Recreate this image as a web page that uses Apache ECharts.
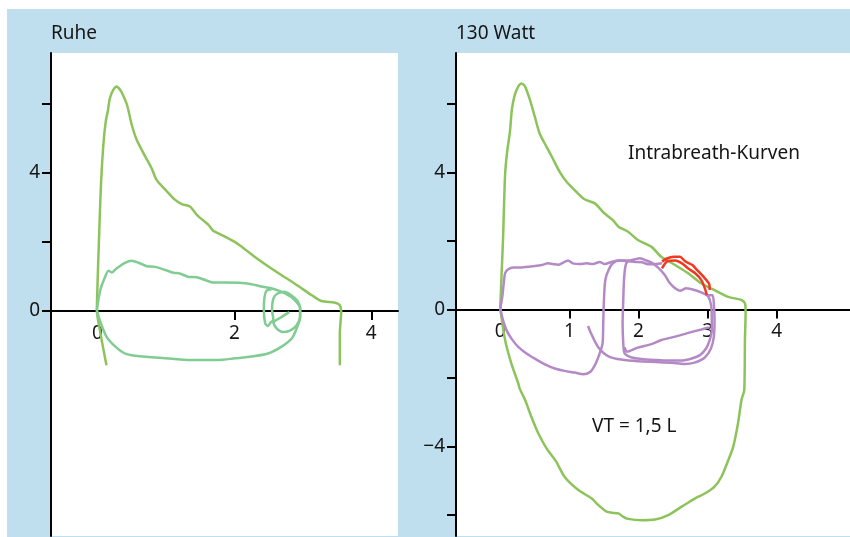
<!DOCTYPE html>
<html>
<head>
<meta charset="utf-8">
<title>Fluss-Volumen-Kurven</title>
<script src="https://cdn.jsdelivr.net/npm/echarts@6/dist/echarts.min.js"></script>
<style>
  html, body { margin: 0; padding: 0; background: #fff; }
  #frame { position: absolute; left: 7px; top: 9px; width: 843px; height: 528px; background: #c0dfee; }
  #main { position: absolute; left: 0; top: 0; width: 850px; height: 537px; }
</style>
</head>
<body>
<div id="frame"></div>
<div id="main"></div>
<script>
// Ruhe: maximal envelope (outer) and tidal loops (volume L, flow L/s)
var ruheEnvelope = [
  [0.13,-1.57],[0.06,-0.84],[0.00,-0.17],[-0.01,0.03],[0.00,0.80],[0.02,2.02],[0.05,3.66],
  [0.085,4.82],[0.12,5.50],[0.15,5.79],[0.18,6.17],[0.23,6.41],[0.28,6.51],[0.31,6.46],
  [0.35,6.35],[0.43,5.98],[0.50,5.40],[0.57,4.97],[0.67,4.58],[0.79,4.14],[0.86,3.81],
  [0.99,3.52],[1.13,3.23],[1.23,3.10],[1.35,3.03],[1.45,2.79],[1.62,2.50],[1.69,2.33],
  [1.81,2.21],[2.01,2.00],[2.11,1.86],[2.30,1.57],[2.47,1.33],[2.69,1.04],[2.84,0.85],
  [2.98,0.66],[3.13,0.46],[3.27,0.29],[3.47,0.24],[3.54,0.17],[3.56,-0.02],[3.54,-0.64],
  [3.54,-1.57]
];
var ruheLoop = [
  [-0.01,0.03],[0.04,-0.31],[0.13,-0.74],[0.26,-1.03],[0.40,-1.23],[0.50,-1.28],[0.79,-1.34],
  [1.13,-1.39],[1.42,-1.42],[1.76,-1.42],[2.01,-1.37],[2.25,-1.32],[2.49,-1.23],[2.69,-1.03],
  [2.84,-0.79],[2.91,-0.50],[2.96,-0.17],[2.96,0.08],[2.88,0.32],[2.74,0.51],[2.54,0.66],
  [2.37,0.72],[2.25,0.78],[2.06,0.82],[1.86,0.83],[1.69,0.83],[1.57,0.90],[1.45,0.98],
  [1.33,0.99],[1.20,1.09],[1.11,1.11],[0.99,1.19],[0.84,1.28],[0.72,1.30],[0.60,1.40],
  [0.50,1.46],[0.40,1.40],[0.28,1.24],[0.21,1.12],[0.16,1.17],[0.11,0.99],[0.04,0.61],
  [-0.01,0.03]
];
var ruheSmallLoops = [
  [2.54,0.63],[2.47,0.59],[2.44,0.41],[2.43,0.03],[2.45,-0.36],[2.49,-0.43],[2.53,-0.33],
  [2.57,-0.26],[2.55,0.03],[2.57,0.37],[2.63,0.51],[2.73,0.56],[2.83,0.46],[2.92,0.30],
  [2.96,0.08],[2.96,-0.14],[2.91,-0.41],[2.81,-0.57],[2.71,-0.61],[2.62,-0.51],[2.57,-0.34],
  [2.69,-0.17],[2.80,-0.03]
];

// 130 Watt: maximal envelope, intrabreath curves (purple) and parts above envelope (red)
var wattEnvelope = [
  [0.00,0.04],[0.02,1.06],[0.04,2.03],[0.07,3.93],[0.10,4.61],[0.14,5.19],[0.17,5.87],
  [0.21,6.26],[0.26,6.51],[0.31,6.60],[0.36,6.51],[0.43,6.12],[0.50,5.63],[0.57,5.14],
  [0.67,4.75],[0.76,4.41],[0.86,4.02],[0.96,3.73],[1.10,3.44],[1.22,3.22],[1.37,3.10],
  [1.49,2.84],[1.63,2.61],[1.71,2.42],[1.85,2.27],[1.99,2.03],[2.19,1.83],[2.33,1.54],
  [2.53,1.30],[2.72,1.06],[2.91,0.76],[3.10,0.57],[3.30,0.37],[3.49,0.28],[3.54,0.18],
  [3.55,-0.06],[3.54,-0.89],[3.53,-2.35],[3.49,-2.64],[3.44,-3.32],[3.37,-4.01],[3.30,-4.39],
  [3.20,-4.88],[3.10,-5.17],[2.96,-5.37],[2.82,-5.51],[2.62,-5.76],[2.43,-6.00],[2.24,-6.13],
  [2.04,-6.15],[1.85,-6.11],[1.78,-6.05],[1.71,-5.95],[1.61,-5.93],[1.54,-5.90],[1.42,-5.71],
  [1.32,-5.51],[1.13,-5.27],[0.93,-4.88],[0.81,-4.44],[0.67,-4.05],[0.55,-3.61],[0.45,-3.13],
  [0.36,-2.64],[0.28,-2.30],[0.26,-2.15],[0.16,-1.57],[0.07,-0.89],[0.00,0.04]
];
var wattBreath1 = [
  [0.00,0.03],[0.03,0.38],[0.05,0.76],[0.07,1.06],[0.11,1.17],[0.19,1.23],[0.31,1.23],
  [0.40,1.25],[0.50,1.27],[0.60,1.30],[0.69,1.35],[0.76,1.33],[0.84,1.31],[0.91,1.37],
  [0.98,1.43],[1.05,1.35],[1.15,1.33],[1.25,1.35],[1.34,1.33],[1.44,1.39],[1.51,1.33],
  [1.61,1.39],[1.71,1.43],[1.85,1.43],[1.95,1.47],[2.02,1.50],[2.09,1.45],[2.19,1.37],
  [2.28,1.23],[2.38,1.01],[2.45,0.78],[2.53,0.62],[2.60,0.55],[2.69,0.62],[2.81,0.57],
  [2.94,0.47],[3.01,0.38],[3.05,0.13],[3.06,-0.21],[3.06,-0.60],[3.03,-0.89],[2.98,-1.13],
  [2.89,-1.33],[2.77,-1.43],[2.62,-1.49],[2.43,-1.49],[2.24,-1.47],[2.04,-1.44],[1.90,-1.40],
  [1.80,-1.28],[1.78,-0.99],[1.77,-0.40],[1.78,0.28],[1.79,0.86],[1.81,1.25],[1.84,1.40],
  [1.95,1.43]
];
var wattBreath2 = [
  [0.00,0.03],[0.04,-0.31],[0.09,-0.60],[0.16,-0.84],[0.26,-1.09],[0.38,-1.28],[0.50,-1.43],
  [0.64,-1.59],[0.79,-1.72],[0.93,-1.79],[1.08,-1.84],[1.20,-1.89],[1.30,-1.82],[1.37,-1.62],
  [1.43,-1.33],[1.48,-0.99],[1.49,-0.40],[1.50,0.28],[1.52,0.86],[1.57,1.17],[1.63,1.35],
  [1.73,1.43],[1.85,1.41],[1.95,1.39],[2.05,1.38],[2.15,1.32],[2.25,1.33],[2.34,1.35]
];
var wattBreath3 = [
  [1.27,-0.48],[1.31,-0.68],[1.36,-0.89],[1.42,-1.11],[1.49,-1.26],[1.58,-1.38],[1.75,-1.46],
  [1.99,-1.51],[2.24,-1.53],[2.48,-1.55],[2.67,-1.59],[2.81,-1.55],[2.96,-1.40],[3.05,-1.13],
  [3.09,-0.79],[3.10,-0.31],[3.09,0.18],[3.07,0.42],[2.99,0.42]
];
var wattBreath4 = [
  [1.80,-1.10],[1.83,-1.23],[1.99,-1.11],[2.19,-1.01],[2.33,-0.89],[2.53,-0.79],[2.72,-0.68],
  [2.91,-0.58],[3.02,-0.52]
];
var wattRedOuter = [
  [2.34,1.40],[2.41,1.49],[2.51,1.54],[2.60,1.54],[2.67,1.42],[2.75,1.33],[2.78,1.30],
  [2.85,1.15],[2.94,0.96],[3.02,0.76],[3.03,0.57]
];
var wattRedInner = [
  [2.34,1.20],[2.41,1.40],[2.53,1.43],[2.63,1.35],[2.72,1.20],[2.82,1.06],[2.91,0.86],
  [2.96,0.62],[2.99,0.42]
];

// tick marks and tick labels
var ruheYTicks = [0, 2, 4, 6];
var ruheYLabels = [0, 4];
var ruheXTicks = [2, 4];
var ruheXLabels = [0, 2, 4];
var wattYTicks = [-6, -4, -2, 0, 2, 4, 6];
var wattYLabels = [-4, 0, 4];
var wattXTicks = [1, 2, 3, 4];
var wattXLabels = [0, 1, 2, 3, 4];

var FONT = '"Noto Sans", sans-serif';
var TXT = '#161616';
var GRID_TOP = 53, GRID_H = 483;

// x axis sits on flow = 0; placed with an offset from the grid bottom
function xAxisOf(idx, min, max, ymin, ymax, ticks, labels) {
  var zeroFromBottom = GRID_H * (0 - ymin) / (ymax - ymin);
  return {
    type: 'value', gridIndex: idx, min: min, max: max, position: 'bottom',
    offset: -zeroFromBottom,
    axisLine: { onZero: false, lineStyle: { color: '#000', width: 2 } },
    axisTick: { customValues: ticks, length: 9, lineStyle: { color: '#000', width: 2 } },
    axisLabel: { customValues: labels, margin: 13, fontSize: 19, color: TXT, fontFamily: FONT },
    splitLine: { show: false }
  };
}
function yAxisOf(idx, min, max, ticks, labels) {
  return {
    type: 'value', gridIndex: idx, min: min, max: max,
    axisLine: { onZero: false, lineStyle: { color: '#000', width: 2 } },
    axisTick: { customValues: ticks, length: 9, lineStyle: { color: '#000', width: 2 } },
    axisLabel: {
      customValues: labels, margin: 11, fontSize: 19, color: TXT, fontFamily: FONT,
      formatter: function (v) { return String(v).replace('-', '\u2212'); }
    },
    splitLine: { show: false }
  };
}
function curve(data, color, idx) {
  return {
    type: 'line', data: data, xAxisIndex: idx, yAxisIndex: idx,
    showSymbol: false, smooth: 0.25, silent: true,
    lineStyle: { color: color, width: 2.5 }
  };
}

var ruheY = [-6.52, 7.48];
var wattY = [-6.61, 7.49];

var chart = echarts.init(document.getElementById('main'), null, { renderer: 'canvas' });
var option = {
  animation: false,
  backgroundColor: 'transparent',
  grid: [
    { left: 51, top: GRID_TOP, width: 347, height: GRID_H, show: true, backgroundColor: '#fff',
      borderWidth: 0, outerBoundsMode: 'none', containLabel: false },
    { left: 456, top: GRID_TOP, width: 394, height: GRID_H, show: true, backgroundColor: '#fff',
      borderWidth: 0, outerBoundsMode: 'none', containLabel: false }
  ],
  xAxis: [
    xAxisOf(0, -0.68, 4.39, ruheY[0], ruheY[1], ruheXTicks, ruheXLabels),
    xAxisOf(1, -0.64, 5.06, wattY[0], wattY[1], wattXTicks, wattXLabels)
  ],
  yAxis: [
    yAxisOf(0, ruheY[0], ruheY[1], ruheYTicks, ruheYLabels),
    yAxisOf(1, wattY[0], wattY[1], wattYTicks, wattYLabels)
  ],
  graphic: [
    { type: 'text', x: 51, y: 24, style: { text: 'Ruhe', font: '19px ' + FONT, fill: TXT } },
    { type: 'text', x: 456, y: 24, style: { text: '130 Watt', font: '19px ' + FONT, fill: TXT } },
    { type: 'text', x: 628, y: 144, style: { text: 'Intrabreath-Kurven', font: '19px ' + FONT, fill: TXT } },
    { type: 'text', x: 592, y: 417, style: { text: 'VT = 1,5 L', font: '19px ' + FONT, fill: TXT } }
  ],
  series: [
    curve(ruheEnvelope, '#8dc35b', 0),
    curve(ruheLoop, '#80cc92', 0),
    curve(ruheSmallLoops, '#80cc92', 0),
    curve(wattEnvelope, '#8dc35b', 1),
    curve(wattBreath1, '#b48ac6', 1),
    curve(wattBreath2, '#b48ac6', 1),
    curve(wattBreath3, '#b48ac6', 1),
    curve(wattBreath4, '#b48ac6', 1),
    curve(wattRedOuter, '#ee3a24', 1),
    curve(wattRedInner, '#ee3a24', 1)
  ]
};
chart.setOption(option);
</script>
</body>
</html>
